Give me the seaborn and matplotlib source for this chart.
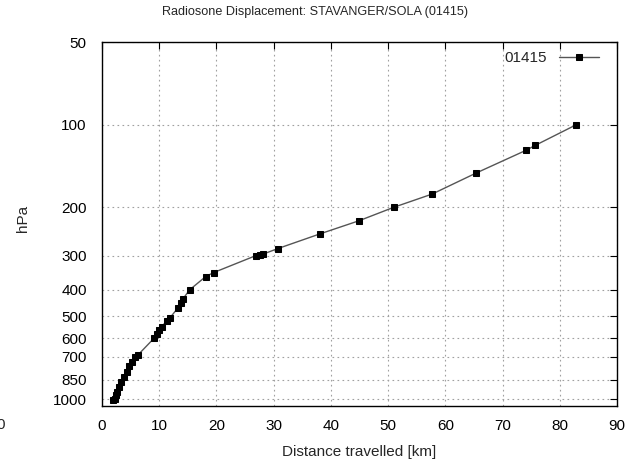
import matplotlib
matplotlib.use("Agg")
import matplotlib.pyplot as plt
import matplotlib.ticker as mticker
import seaborn as sns
import pandas as pd

# Data
distance_km = [2.0, 2.2, 2.4, 2.7, 3.0, 3.4, 3.9, 4.3, 4.8, 5.2, 5.8, 6.3,
               9.1, 9.6, 10.0, 10.4, 11.3, 11.8, 13.2, 13.8, 14.1, 15.3,
               18.1, 19.5, 26.9, 27.6, 28.2, 30.7, 38.1, 44.9, 51.0, 57.7,
               65.4, 74.1, 75.7, 82.9]
pressure_hpa = [1012, 1000, 970, 940, 905, 865, 830, 795, 758, 731, 705, 690,
                600, 578, 561, 545, 520, 508, 467, 448, 433, 400,
                358, 346, 300, 298, 296, 283, 250, 224, 200, 179,
                150, 124, 119, 100]
y_ticks = [50, 100, 200, 300, 400, 500, 600, 700, 850, 1000]
x_ticks = [0, 10, 20, 30, 40, 50, 60, 70, 80, 90]
station = "01415"
title = "Radiosone Displacement: STAVANGER/SOLA (01415)"

df = pd.DataFrame({"distance": distance_km, "pressure": pressure_hpa})

sns.set_theme(style="white")
plt.rcParams["font.family"] = ["Liberation Sans", "DejaVu Sans"]
plt.rcParams["font.size"] = 11

fig = plt.figure(figsize=(6.29, 4.62), dpi=100)
ax = fig.add_axes([0.1622, 0.1212, 0.981 - 0.1622, 0.909 - 0.1212])

sns.lineplot(data=df, x="distance", y="pressure", sort=False, ax=ax,
             color="#555555", linewidth=1.0, marker="s", markersize=5,
             markerfacecolor="black", markeredgecolor="black",
             label=station)

ax.set_yscale("log")
ax.set_ylim(1060, 50)
ax.set_xlim(0, 90)
ax.yaxis.set_major_locator(mticker.FixedLocator(y_ticks))
ax.yaxis.set_major_formatter(mticker.FixedFormatter([str(t) for t in y_ticks]))
ax.yaxis.set_minor_locator(mticker.NullLocator())
ax.set_xticks(x_ticks)
ax.set_xticklabels([str(t) for t in x_ticks])

ax.tick_params(axis="both", which="major", direction="in", length=5, width=0.8,
               top=True, right=True, labelsize=11, colors="black")
ax.tick_params(axis="x", pad=9)
ax.tick_params(axis="y", pad=11)
for s in ax.spines.values():
    s.set_color("black")
    s.set_linewidth(1.0)

ax.grid(True, linestyle=(0, (1.5, 3)), color="#a0a0a0", linewidth=0.8)

ax.set_xlabel("Distance travelled [km]", fontsize=11, labelpad=9)
ax.set_ylabel("hPa", fontsize=11)
ax.yaxis.set_label_coords(-0.14, 0.516)

fig.text(315 / 629, 1 - 12 / 462, title, ha="center", va="center", fontsize=9.1)

leg = ax.legend(loc="upper right", frameon=False, markerfirst=False,
                fontsize=11, handlelength=2.6, borderaxespad=0.2,
                bbox_to_anchor=(0.982, 1.0))

fig.text(5 / 629, 1 - 425 / 462, "0", ha="right", va="center", fontsize=11)

fig.savefig("out.png", dpi=100)
